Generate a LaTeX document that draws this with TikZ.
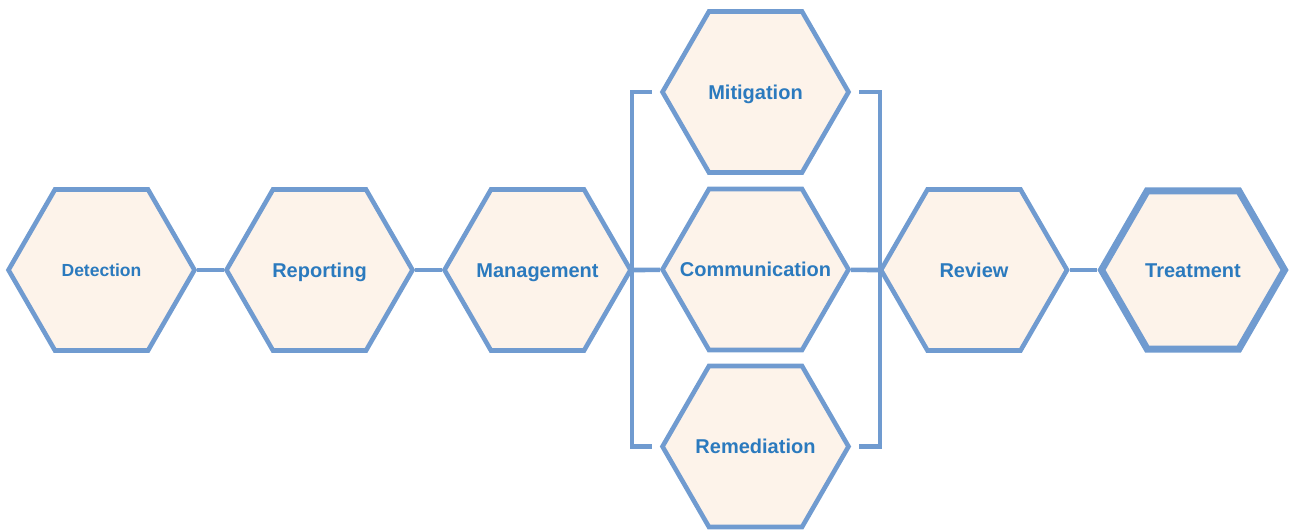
\documentclass[tikz,border=0pt]{standalone}
\usepackage{fontspec}
\setsansfont{Liberation Sans}
\usetikzlibrary{shapes.geometric}

\definecolor{hexline}{RGB}{112,155,208}
\definecolor{hexfill}{RGB}{253,243,234}
\definecolor{hextext}{RGB}{43,122,190}

\begin{document}
\begin{tikzpicture}
    [x=1pt,y=-1pt,
      hexagon/.style={regular polygon,regular polygon sides=6,minimum size=186pt,inner sep=0pt,
        draw=hexline,fill=hexfill,line width=4.6pt},
      stage/.style={hexagon,label={[stage text]center:#1}},
      stage text/.style={text=hextext,text height=14.3pt,text depth=0pt,
        font=\sffamily\bfseries\fontsize{20}{24}\selectfont},
      small text/.style={text height=12.4pt,font=\sffamily\bfseries\fontsize{17.5}{20}\selectfont},
      final stage/.style={line width=7pt,minimum size=183pt},
      link/.style={draw=hexline,line width=4.6pt}
    ]

    \useasboundingbox (0,0) rectangle (1290,530);

    \node [hexagon,label={[stage text,small text]center:Detection}] (det) at (101.5,270) {};
    \node [stage=Reporting] (rep) at (319.5,270) {};
    \node [stage=Management] (mgmt) at (537.5,270) {};
    \node [stage=Mitigation] (mit) at (755.5,92) {};
    \node [stage=Communication] (comm) at (755.5,269.5) {};
    \node [stage=Remediation] (rem) at (755.5,446.5) {};
    \node [stage=Review] (rev) at (974,270) {};
    \node [stage=Treatment,final stage] (treat) at (1193,270) {};

    \coordinate (split) at (632,270);
    \coordinate (join) at (880,270);

    \draw [link] (det) -- (rep);
    \draw [link] (rep) -- (mgmt);
    \draw [link] (mgmt) -- (split) -- (comm);
    \draw [link] ([xshift=-8pt]mit.west) -| (split) |- ([xshift=-8pt]rem.west);
    \draw [link] ([xshift=8pt]mit.east) -| (join) |- ([xshift=8pt]rem.east);
    \draw [link] (comm) -- (join) -- (rev);
    \draw [link] (rev) -- (treat);
  \end{tikzpicture}
\end{document}
